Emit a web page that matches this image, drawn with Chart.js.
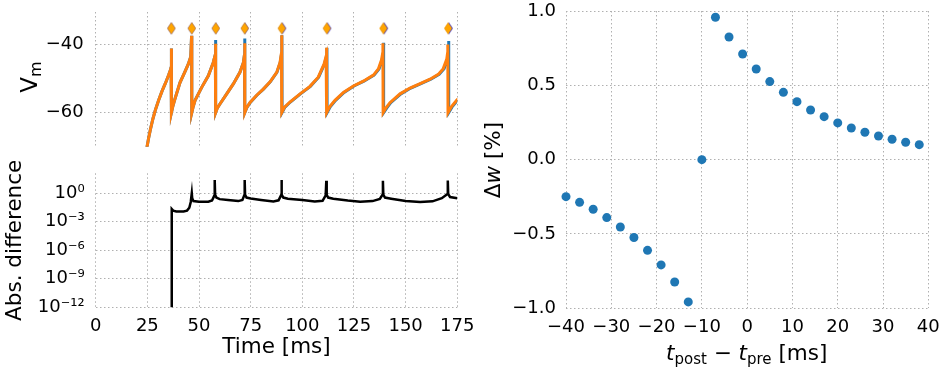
<!DOCTYPE html>
<html>
<head>
<meta charset="utf-8">
<script src="https://cdn.jsdelivr.net/npm/chart.js@4.4.0/dist/chart.umd.min.js"></script>
<style>
    html, body { margin: 0; padding: 0; background: #fff; }
    #wrap { position: relative; width: 943px; height: 370px; overflow: hidden; }
    canvas { position: absolute; }
</style>
</head>
<body>
<div id="wrap">
    <canvas id="vmChart" width="480" height="160" style="left:0;top:0"></canvas>
    <canvas id="diffChart" width="480" height="210" style="left:0;top:160px"></canvas>
    <canvas id="stdpChart" width="463" height="370" style="left:480px;top:0"></canvas>
</div>
<script>
// membrane potential, two runs (orange drawn over blue)
var vmTimeOrange = [
    24.7, 25.6, 26.6, 27.7, 29.0, 30.5, 32.1, 33.8, 35.3, 36.3, 36.5, 36.6, 36.7,
    37.4, 38.4, 40.8, 43.0, 44.8, 46.0, 46.4, 46.5,
    47.2, 48.1, 51.3, 54.5, 56.9, 57.9, 58.0, 58.1,
    58.9, 60.2, 63.4, 66.6, 69.8, 71.5, 72.0, 72.1, 72.2,
    73.1, 74.7, 77.9, 81.1, 84.4, 87.6, 89.2, 89.9, 90.0, 90.1,
    91.4, 94.0, 98.9, 103.7, 107.7, 110.5, 111.5, 111.7, 111.8,
    113.2, 115.8, 119.9, 124.7, 129.5, 134.4, 136.8, 138.3, 138.9, 139.0, 139.1,
    140.5, 142.4, 147.3, 152.1, 157.0, 161.8, 165.8, 168.2, 169.9, 170.3, 170.4, 170.5,
    172.0, 174.7, 175.5
];
var vmOrange = [
    -70.5, -67.5, -64.6, -61.8, -59.0, -56.3, -53.7, -51.3, -49.0, -47.3, -46.6, -41.2, -60.0,
    -58.0, -55.9, -51.2, -48.3, -45.8, -43.6, -37.5, -60.0,
    -58.2, -56.4, -52.6, -49.2, -45.3, -43.0, -39.8, -60.0,
    -58.6, -57.4, -54.5, -51.6, -48.2, -45.3, -43.0, -39.7, -60.0,
    -58.5, -57.0, -54.9, -53.1, -51.0, -48.2, -45.3, -42.5, -37.3, -60.0,
    -58.4, -56.9, -54.5, -52.3, -49.6, -45.8, -43.5, -41.0, -60.0,
    -58.3, -56.4, -54.1, -52.2, -50.8, -49.0, -47.2, -44.6, -42.5, -39.7, -60.0,
    -58.6, -57.1, -54.5, -52.8, -51.5, -50.2, -48.8, -47.1, -44.3, -42.5, -40.0, -60.0,
    -58.4, -56.4, -55.9
];
var vmTimeBlue = [
    24.7, 25.6, 26.6, 27.7, 29.0, 30.5, 32.1, 33.8, 35.3, 36.3, 36.5, 36.6, 36.7,
    37.4, 38.4, 40.8, 43.0, 44.8, 46.0, 46.4, 46.5,
    47.2, 48.1, 51.3, 54.5, 56.9, 57.9, 58.0, 58.1,
    58.9, 60.2, 63.4, 66.6, 69.8, 71.5, 72.0, 72.1, 72.2,
    73.2, 74.8, 78.0, 81.2, 84.5, 87.7, 89.3, 90.0, 90.1, 90.2,
    91.6, 94.2, 99.1, 103.9, 107.9, 110.7, 111.7, 111.9, 112.0,
    113.5, 116.1, 120.2, 125.0, 129.8, 134.7, 137.1, 138.6, 139.2, 139.3, 139.4,
    140.9, 142.8, 147.7, 152.5, 157.4, 162.2, 166.2, 168.6, 170.3, 170.7, 170.8, 170.9,
    172.4, 175.1, 175.5
];
var vmBlue = [
    -70.5, -67.5, -64.6, -61.8, -59.0, -56.3, -53.7, -51.3, -49.0, -47.3, -46.6, -41.2, -60.0,
    -58.0, -55.9, -51.2, -48.3, -45.8, -43.6, -37.5, -60.0,
    -58.2, -56.4, -52.6, -49.2, -45.3, -43.0, -38.7, -60.0,
    -58.6, -57.4, -54.5, -51.6, -48.2, -45.3, -43.0, -38.3, -60.0,
    -58.5, -57.0, -54.9, -53.1, -51.0, -48.2, -45.3, -42.5, -37.3, -60.0,
    -58.4, -56.9, -54.5, -52.3, -49.6, -45.8, -43.5, -41.0, -60.0,
    -58.3, -56.4, -54.1, -52.2, -50.8, -49.0, -47.2, -44.6, -42.5, -39.5, -60.0,
    -58.6, -57.1, -54.5, -52.8, -51.5, -50.2, -48.8, -47.1, -44.3, -42.5, -39.0, -60.0,
    -58.4, -56.4, -56.1
];
var spikeTimesOrange = [36.6, 46.5, 58.1, 72.1, 90.0, 111.8, 139.2, 170.5];
var spikeTimesBlue = [36.6, 46.5, 58.1, 72.2, 90.3, 112.1, 139.6, 170.9];
var spikeMarks = [-35.3, -35.3, -35.3, -35.3, -35.3, -35.3, -35.3, -35.3];
var vmTicks = [-60, -40];

// absolute difference between the two runs
var diffTime = [
    36.8, 36.8, 37.5, 39.0, 42.5, 44.2, 45.3, 46.0, 46.5,
    46.7, 47.3, 50.0, 54.5, 56.3, 57.3, 57.6,
    57.8, 58.4, 60.0, 64.0, 69.0, 71.0, 71.9, 72.1,
    72.3, 73.0, 75.0, 80.0, 86.0, 88.5, 89.7, 89.9,
    90.1, 90.8, 93.0, 100.0, 106.0, 109.8, 111.3, 111.6,
    111.8, 112.5, 115.0, 122.0, 128.0, 134.0, 137.5, 138.8, 139.0,
    139.2, 140.0, 143.0, 150.0, 157.0, 163.0, 167.5, 170.1, 170.4,
    170.6, 171.5, 175.0
];
var diffValue = [
    1e-16, 2.2e-2, 1.5e-2, 1.2e-2, 1.2e-2, 1.5e-2, 3e-2, 0.12, 1.0,
    0.3, 0.15, 0.13, 0.13, 0.17, 0.5, 25,
    0.7, 0.35, 0.24, 0.2, 0.15, 0.2, 0.6, 25,
    0.7, 0.35, 0.28, 0.2, 0.14, 0.18, 0.6, 25,
    0.7, 0.35, 0.27, 0.2, 0.14, 0.16, 0.6, 21,
    0.7, 0.35, 0.27, 0.17, 0.13, 0.15, 0.25, 0.7, 21,
    0.7, 0.35, 0.27, 0.15, 0.12, 0.14, 0.3, 0.8, 22,
    0.8, 0.4, 0.3
];
var diffTicks = [1e-12, 1e-9, 1e-6, 1e-3, 1];

// weight change vs spike timing
var stdpDeltaT = [-40, -37, -34, -31, -28, -25, -22, -19, -16, -13, -10, -7, -4, -1,
    2, 5, 8, 11, 14, 17, 20, 23, 26, 29, 32, 35, 38];
var stdpDeltaW = [-0.249, -0.287, -0.334, -0.390, -0.453, -0.524, -0.610, -0.708, -0.823, -0.957,
    0.0, 0.958, 0.825, 0.711, 0.610, 0.525, 0.453, 0.390, 0.334, 0.289, 0.247, 0.213,
    0.184, 0.159, 0.137, 0.117, 0.101];

var FONT = "'DejaVu Sans', sans-serif";
Chart.defaults.font.family = FONT;
Chart.defaults.font.size = 18;
Chart.defaults.color = '#000';

function pairs(xs, ys) {
    return xs.map(function (x, i) { return { x: x, y: ys[i] }; });
}

function minus(v) {
    return String(v).replace('-', '\u2212');
}

function diamond(fill) {
    var c = document.createElement('canvas');
    c.width = 10;
    c.height = 14;
    var g = c.getContext('2d');
    g.fillStyle = fill;
    g.beginPath();
    g.moveTo(5, 1);
    g.lineTo(9, 7);
    g.lineTo(5, 13);
    g.lineTo(1, 7);
    g.closePath();
    g.fill();
    return c;
}

var SUP = { '0': '\u2070', '1': '\u00b9', '2': '\u00b2', '3': '\u00b3', '4': '\u2074', '5': '\u2075',
    '6': '\u2076', '7': '\u2077', '8': '\u2078', '9': '\u2079', '-': '\u207b' };
function powLabel(v) {
    var e = String(Math.round(Math.log10(v)));
    return '10' + e.split('').map(function (ch) { return SUP[ch]; }).join('');
}

var grid = { color: '#b0b0b0', lineWidth: 1, drawTicks: false };
var border = { display: false, dash: [1.5, 2.5] };

// fixed axis boxes so the plot areas land where the reference has them
function fixX(h) {
    return function (s) { s.height = h; s.paddingLeft = 0; s.paddingRight = 0; };
}
function fixY(w) {
    return function (s) { s.width = w; s.paddingTop = 0; s.paddingBottom = 0; };
}

// axis labels with sub/superscripts, drawn on the canvas
function labelPlugin(items) {
    return {
        id: 'richLabels',
        afterDraw: function (chart) {
            var ctx = chart.ctx;
            items.forEach(function (item) {
                ctx.save();
                ctx.translate(item.x, item.y);
                ctx.rotate(item.rot || 0);
                ctx.fillStyle = '#000';
                ctx.textBaseline = 'alphabetic';
                var total = 0;
                item.parts.forEach(function (p) {
                    ctx.font = (p.italic ? 'italic ' : '') + (p.size || 21.5) + 'px ' + FONT;
                    p.w = ctx.measureText(p.text).width;
                    total += p.w;
                });
                var cx = -total / 2;
                item.parts.forEach(function (p) {
                    ctx.font = (p.italic ? 'italic ' : '') + (p.size || 21.5) + 'px ' + FONT;
                    ctx.fillText(p.text, cx, p.dy || 0);
                    cx += p.w;
                });
                ctx.restore();
            });
        }
    };
}

var common = {
    responsive: false,
    animation: false,
    devicePixelRatio: 1,
    plugins: { legend: { display: false }, tooltip: { enabled: false } }
};

new Chart(document.getElementById('vmChart'), {
    type: 'line',
    data: {
        datasets: [{
            data: pairs(spikeTimesOrange, spikeMarks),
            showLine: false,
            pointStyle: diamond('#ffa500'),
            pointRadius: 6,
            order: 0
        }, {
            data: pairs(spikeTimesBlue, spikeMarks),
            showLine: false,
            pointStyle: diamond('#3b35c8'),
            pointRadius: 6,
            order: 1
        }, {
            data: pairs(vmTimeOrange, vmOrange),
            borderColor: '#ff7f0e',
            borderWidth: 3,
            pointRadius: 0,
            tension: 0,
            order: 2
        }, {
            data: pairs(vmTimeBlue, vmBlue),
            borderColor: '#1f77b4',
            borderWidth: 3,
            pointRadius: 0,
            tension: 0,
            order: 3
        }]
    },
    options: Object.assign({}, common, {
        layout: { padding: { left: 0, right: 22.7, top: 12, bottom: 13.3 } },
        scales: {
            x: {
                type: 'linear', min: 0, max: 175,
                ticks: { display: false, stepSize: 25 },
                grid: grid, border: border,
                afterFit: fixX(0)
            },
            y: {
                min: -70, max: -30.5,
                ticks: { padding: 12, callback: minus },
                afterBuildTicks: function (s) { s.ticks = vmTicks.map(function (v) { return { value: v }; }); },
                grid: grid, border: border,
                afterFit: fixY(95.7)
            }
        }
    }),
    plugins: [labelPlugin([
        { x: 37, y: 77, rot: -Math.PI / 2, parts: [{ text: 'V', size: 23 }, { text: 'm', size: 16, dy: 4 }] }
    ])]
});

new Chart(document.getElementById('diffChart'), {
    type: 'line',
    data: {
        datasets: [{
            data: pairs(diffTime, diffValue),
            borderColor: '#000',
            borderWidth: 2.5,
            pointRadius: 0,
            tension: 0
        }]
    },
    options: Object.assign({}, common, {
        layout: { padding: { left: 0, right: 22.7, top: 13.3, bottom: 0 } },
        scales: {
            x: {
                type: 'linear', min: 0, max: 175,
                ticks: { stepSize: 25, padding: 8 },
                title: { display: true, text: 'Time [ms]', font: { size: 21.5 }, padding: { top: 0, bottom: 10 } },
                grid: grid, border: border,
                afterFit: fixX(62.7)
            },
            y: {
                type: 'logarithmic', min: 1e-12, max: 125.9,
                ticks: { padding: 11, callback: powLabel },
                afterBuildTicks: function (s) { s.ticks = diffTicks.map(function (v) { return { value: v }; }); },
                title: { display: true, text: 'Abs. difference', font: { size: 21.5 }, padding: { top: 3, bottom: 0 } },
                grid: grid, border: border,
                afterFit: fixY(95.7)
            }
        }
    })
});

new Chart(document.getElementById('stdpChart'), {
    type: 'scatter',
    data: {
        datasets: [{
            data: pairs(stdpDeltaT, stdpDeltaW),
            backgroundColor: '#1f77b4',
            borderWidth: 0,
            pointRadius: 4.5,
            clip: false
        }]
    },
    options: Object.assign({}, common, {
        layout: { padding: { left: 0, right: 14.7, top: 11, bottom: 0 } },
        scales: {
            x: {
                min: -40, max: 40,
                ticks: { stepSize: 10, padding: 8, callback: minus },
                grid: grid, border: border,
                afterFit: fixX(61.7)
            },
            y: {
                min: -1, max: 1,
                ticks: { stepSize: 0.5, padding: 10, callback: function (v) { return minus(v.toFixed(1)); } },
                grid: grid, border: border,
                afterFit: fixY(86)
            }
        }
    }),
    plugins: [labelPlugin([
        { x: 20, y: 160, rot: -Math.PI / 2, parts: [{ text: '\u0394' }, { text: 'w', italic: true }, { text: ' [%]' }] },
        { x: 266.7, y: 360, parts: [
            { text: 't', italic: true }, { text: 'post', size: 15, dy: 4 }, { text: ' \u2212 ' },
            { text: 't', italic: true }, { text: 'pre', size: 15, dy: 4 }, { text: ' [ms]' }
        ] }
    ])]
});
</script>
</body>
</html>
